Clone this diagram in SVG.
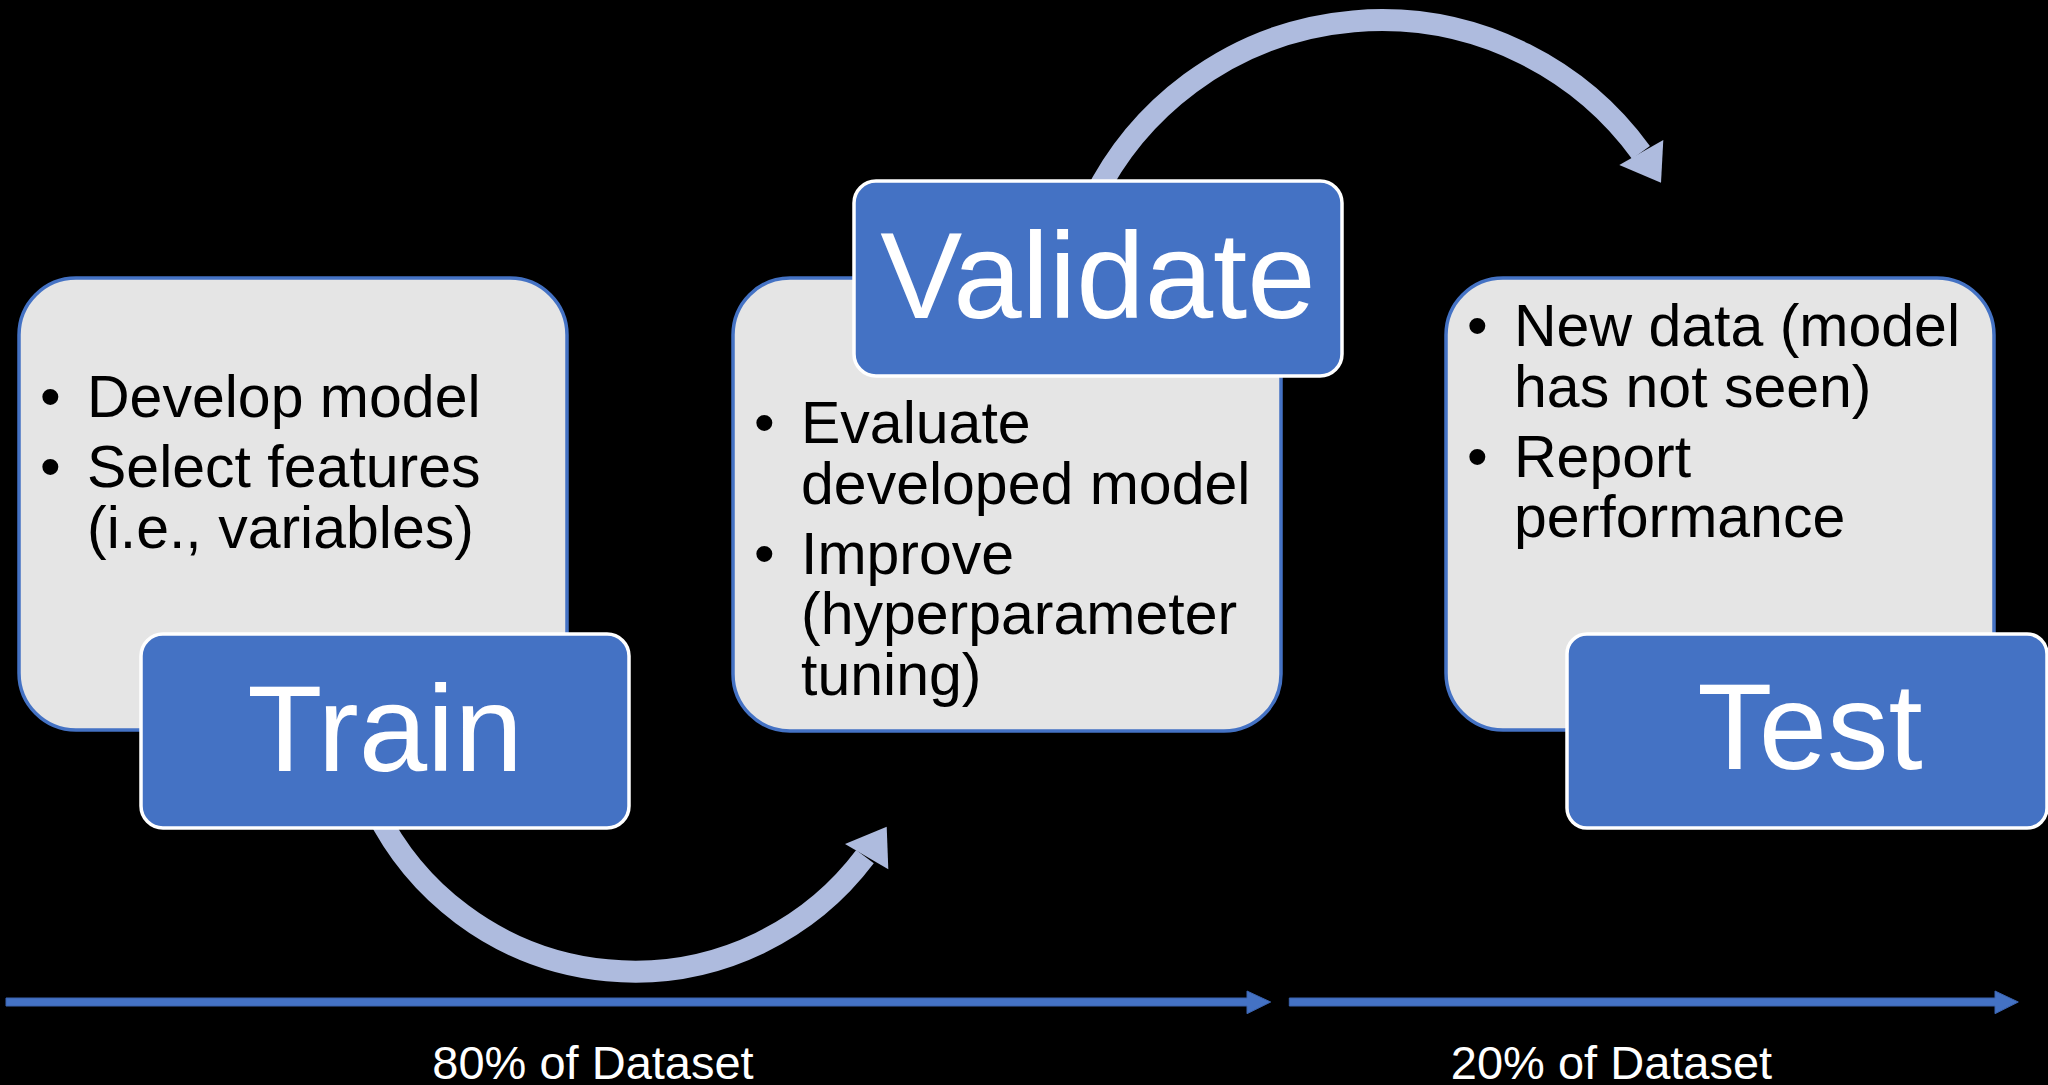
<svg xmlns="http://www.w3.org/2000/svg" width="2048" height="1085" viewBox="0 0 2048 1085">
  <style>
    .panel { fill: #E5E5E5; stroke: #4472C4; stroke-width: 3.5; }
    .tag { fill: #4472C4; stroke: #FFFFFF; stroke-width: 3.5; }
    .body { font-family: "Liberation Sans", Arial, sans-serif; font-size: 59px; fill: #000000; }
    .title { font-family: "Liberation Sans", Arial, sans-serif; font-size: 123px; fill: #FFFFFF; text-anchor: middle; }
    .caption { font-family: "Liberation Sans", Arial, sans-serif; font-size: 47px; fill: #FFFFFF; text-anchor: middle; }
    .flow { fill: none; stroke: #AEBBDE; stroke-width: 22; }
    .flow-head { fill: #AEBBDE; }
    .split { fill: #4472C4; stroke: #3B63AE; stroke-width: 1; }
  </style>

  <rect x="0" y="0" width="2048" height="1085" fill="#000000"/>

  <!-- curved flow arrows between stages -->
  <g id="connectors">
    <path class="flow" d="M 375.5 810 A 288.5 288.5 0 0 0 865 856.7"/>
    <polygon class="flow-head" points="886.7,826.7 845,844 888.3,869.3"/>
    <path class="flow" d="M 1093 200 A 321 321 0 0 1 1641 152.5"/>
    <polygon class="flow-head" points="1661,182.7 1619.3,165 1663.3,140"/>
  </g>

  <!-- Train stage -->
  <g id="train">
    <rect class="panel" x="19" y="278" width="548" height="452" rx="57" ry="57"/>
    <text class="body" x="40" y="417">•</text>
    <text class="body" x="87" y="417">Develop model</text>
    <text class="body" x="40" y="487">•</text>
    <text class="body" x="87" y="487">Select features</text>
    <text class="body" x="87" y="547.5">(i.e., variables)</text>
    <rect class="tag" x="141" y="634" width="488" height="194" rx="22" ry="22"/>
    <text class="title" x="385" y="771">Train</text>
  </g>

  <!-- Validate stage -->
  <g id="validate">
    <rect class="panel" x="733" y="278" width="548" height="453" rx="57" ry="57"/>
    <text class="body" x="754" y="443">•</text>
    <text class="body" x="801" y="443">Evaluate</text>
    <text class="body" x="801" y="503.5">developed model</text>
    <text class="body" x="754" y="573.5">•</text>
    <text class="body" x="801" y="573.5">Improve</text>
    <text class="body" x="801" y="634">(hyperparameter</text>
    <text class="body" x="801" y="694.5">tuning)</text>
    <rect class="tag" x="854" y="181" width="488" height="195" rx="22" ry="22"/>
    <text class="title" x="1098" y="318">Validate</text>
  </g>

  <!-- Test stage -->
  <g id="test">
    <rect class="panel" x="1446" y="278" width="548" height="452" rx="57" ry="57"/>
    <text class="body" x="1467" y="346">•</text>
    <text class="body" x="1514" y="346">New data (model</text>
    <text class="body" x="1514" y="406.5">has not seen)</text>
    <text class="body" x="1467" y="476.5">•</text>
    <text class="body" x="1514" y="476.5">Report</text>
    <text class="body" x="1514" y="537">performance</text>
    <rect class="tag" x="1567" y="634" width="480" height="194" rx="20" ry="20"/>
    <text class="title" x="1810" y="769">Test</text>
  </g>

  <!-- dataset split along the bottom -->
  <g id="dataset-split">
    <polygon class="split" points="6,998 1247,998 1247,991 1270.7,1002 1247,1013.7 1247,1006 6,1006"/>
    <polygon class="split" points="1289.3,998 1995,998 1995,991 2018.3,1002 1995,1013.7 1995,1006 1289.3,1006"/>
    <text class="caption" x="593" y="1079">80% of Dataset</text>
    <text class="caption" x="1611.5" y="1079">20% of Dataset</text>
  </g>
</svg>
